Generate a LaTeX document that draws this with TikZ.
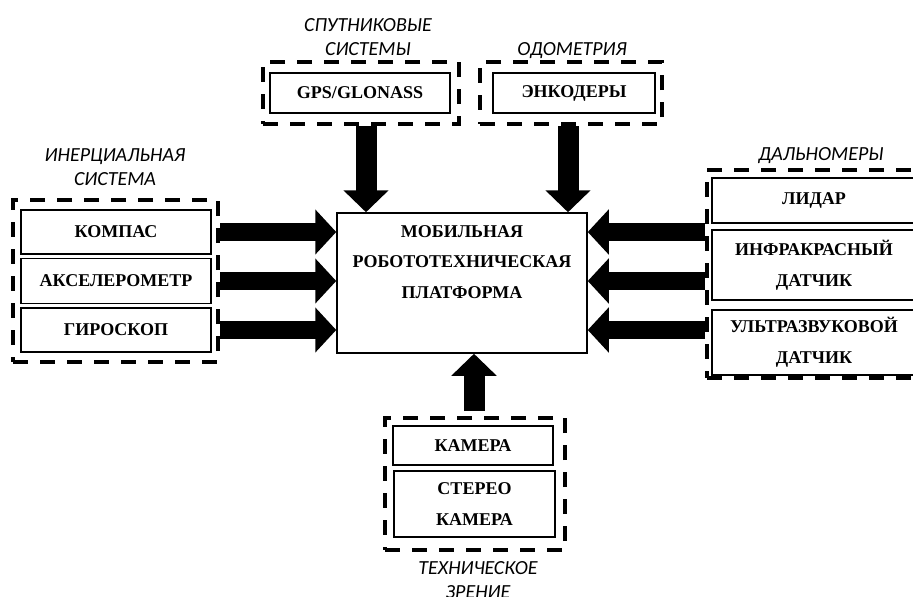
\documentclass[tikz,border=0pt]{standalone}
\usepackage{fontspec}
\setmainfont{Liberation Serif}
\newfontfamily\labfont{Carlito}
\usetikzlibrary{arrows.meta}
\begin{document}
\begin{tikzpicture}[x=1pt,y=-1pt,
  inbox/.style={draw, line width=1.3pt, inner sep=0pt, align=center,
    font=\fontsize{18}{31}\selectfont\bfseries},
  group/.style={draw, line width=4pt, dash pattern=on 15pt off 12pt, inner sep=0pt},
  grplabel/.style={anchor=base, align=center, font=\fontsize{20}{23.5}\selectfont\labfont\itshape},
  bigarrow/.style={line width=18pt, -{Triangle[width=44pt,length=21pt]}},
  bigarrowv/.style={line width=21pt, -{Triangle[width=44pt,length=22pt]}},
]
\useasboundingbox (0,0) rectangle (913,597);
\clip (0,0) rectangle (913,597);

% central platform
\node[draw, line width=1.5pt, minimum width=250pt, minimum height=140pt, inner sep=0pt] (main) at (462,283) {};
\node[align=center, font=\fontsize{18}{30.5}\selectfont\bfseries] (maintxt) at (462,262)
  {МОБИЛЬНАЯ\\РОБОТОТЕХНИЧЕСКАЯ\\ПЛАТФОРМА};

% inertial system
\node[group, minimum width=205pt, minimum height=162pt] (inert) at (115.5,281) {};
\node[inbox, minimum width=190pt, minimum height=44pt] (komp) at (116,232) {КОМПАС};
\node[inbox, minimum width=190pt, minimum height=45pt] (accel) at (116,281) {АКСЕЛЕРОМЕТР};
\node[inbox, minimum width=190pt, minimum height=44pt] (gyro) at (116,330) {ГИРОСКОП};
\node[grplabel] (inertlab) at (115,185) {ИНЕРЦИАЛЬНАЯ\\СИСТЕМА};

% satellite systems
\node[group, minimum width=196pt, minimum height=62pt] (sat) at (361,93) {};
\node[inbox, minimum width=180pt, minimum height=40pt] (gps) at (360,93) {GPS/GLONASS};
\node[grplabel] (satlab) at (368,55) {СПУТНИКОВЫЕ\\СИСТЕМЫ};

% odometry
\node[group, minimum width=182pt, minimum height=62pt] (odo) at (571,93) {};
\node[inbox, minimum width=162pt, minimum height=40pt] (enc) at (574,93) {ЭНКОДЕРЫ};
\node[grplabel] (odolab) at (572,55) {ОДОМЕТРИЯ};

% range finders
\node[group, minimum width=214pt, minimum height=208pt] (range) at (814,274) {};
\node[inbox, minimum width=204pt, minimum height=45pt] (lidar) at (814,200.5) {ЛИДАР};
\node[inbox, minimum width=204pt, minimum height=70pt] (ir) at (814,265) {ИНФРАКРАСНЫЙ\\ДАТЧИК};
\node[inbox, minimum width=204pt, minimum height=65pt] (us) at (814,342.5) {УЛЬТРАЗВУКОВОЙ\\ДАТЧИК};
\node[grplabel] (rangelab) at (821,160) {ДАЛЬНОМЕРЫ};

% vision
\node[group, minimum width=180pt, minimum height=132pt] (vis) at (475,484) {};
\node[inbox, minimum width=160pt, minimum height=39pt] (cam) at (473,445.5) {КАМЕРА};
\node[inbox, minimum width=161pt, minimum height=66pt] (stereo) at (474.5,504) {СТЕРЕО\\КАМЕРА};
\node[grplabel] (vislab) at (478,598) {ТЕХНИЧЕСКОЕ\\ЗРЕНИЕ};

% arrows
\draw[bigarrow] (inert.east |- komp) -- (main.west |- komp);
\draw[bigarrow] (inert.east |- accel) -- (main.west |- accel);
\draw[bigarrow] (inert.east |- gyro) -- (main.west |- gyro);

\draw[bigarrow] (range.west |- komp) -- (main.east |- komp);
\draw[bigarrow] (range.west |- accel) -- (main.east |- accel);
\draw[bigarrow] (range.west |- gyro) -- (main.east |- gyro);

\draw[bigarrowv] ([xshift=5pt]sat.south) -- ([xshift=5pt]sat.south |- main.north);
\draw[bigarrowv] ([xshift=-3pt]odo.south) -- ([xshift=-3pt]odo.south |- main.north);
\draw[bigarrowv] ([xshift=-1pt,yshift=5pt]vis.north) -- ([xshift=-1pt]vis.north |- main.south);
\end{tikzpicture}
\end{document}
